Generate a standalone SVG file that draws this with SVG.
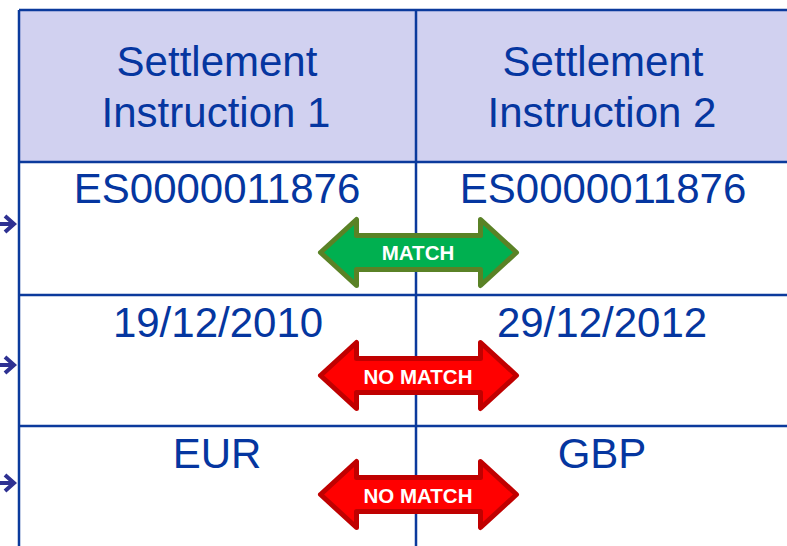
<svg xmlns="http://www.w3.org/2000/svg" width="787" height="546" viewBox="0 0 787 546">
<style>
.t{font-family:"Liberation Sans",Arial,sans-serif;font-size:42px;fill:#0536a0;text-anchor:middle}
.l{font-family:"Liberation Sans",Arial,sans-serif;font-size:20.5px;font-weight:bold;fill:#fff;text-anchor:middle}
.grid{stroke:#0b3a9c;stroke-width:2.5;fill:none}
.ptr{stroke:#2e3192;stroke-width:4;fill:none}
.g{fill:#00b050;stroke:#5a8226;stroke-width:5;stroke-linejoin:round}
.r{fill:#ff0000;stroke:#c00000;stroke-width:5;stroke-linejoin:round}
</style>
<defs>
<path id="dbl" d="M-98,0 L-62,-33 L-62,-17 L62,-17 L62,-33 L98,0 L62,33 L62,17 L-62,17 L-62,33 Z"/>
</defs>
<rect x="0" y="0" width="787" height="546" fill="#fff"/>
<g id="table">
<rect x="19" y="10" width="775" height="152" fill="#d1d1f0"/>
<path class="grid" d="M19,10 H787 M19,10 V546 M416,10 V546 M19,162 H787 M19,295 H787 M19,426 H787"/>
</g>
<g id="header1"><text class="t" x="217" y="76">Settlement</text><text class="t" x="216" y="127">Instruction 1</text></g>
<g id="header2"><text class="t" x="603" y="76">Settlement</text><text class="t" x="602" y="127">Instruction 2</text></g>
<g id="r1c1"><text class="t" x="217" y="203">ES0000011876</text></g>
<g id="r1c2"><text class="t" x="603" y="203">ES0000011876</text></g>
<g id="r2c1"><text class="t" x="218" y="337">19/12/2010</text></g>
<g id="r2c2"><text class="t" x="602" y="337">29/12/2012</text></g>
<g id="r3c1"><text class="t" x="217" y="468">EUR</text></g>
<g id="r3c2"><text class="t" x="602" y="468">GBP</text></g>
<g id="connectors">
<path class="ptr" d="M-5,224 H13 M5,216 L14,224 L5,232"/>
<path class="ptr" d="M-5,365 H13 M5,357 L14,365 L5,373"/>
<path class="ptr" d="M-5,483 H13 M5,475 L14,483 L5,491"/>
</g>
<g id="match1"><use href="#dbl" class="g" transform="translate(418.5,252.5)"/><text class="l" x="418" y="260">MATCH</text></g>
<g id="nomatch1"><use href="#dbl" class="r" transform="translate(418.5,375.5)"/><text class="l" x="418" y="384">NO MATCH</text></g>
<g id="nomatch2"><use href="#dbl" class="r" transform="translate(418.5,494.5)"/><text class="l" x="418" y="503">NO MATCH</text></g>
</svg>
